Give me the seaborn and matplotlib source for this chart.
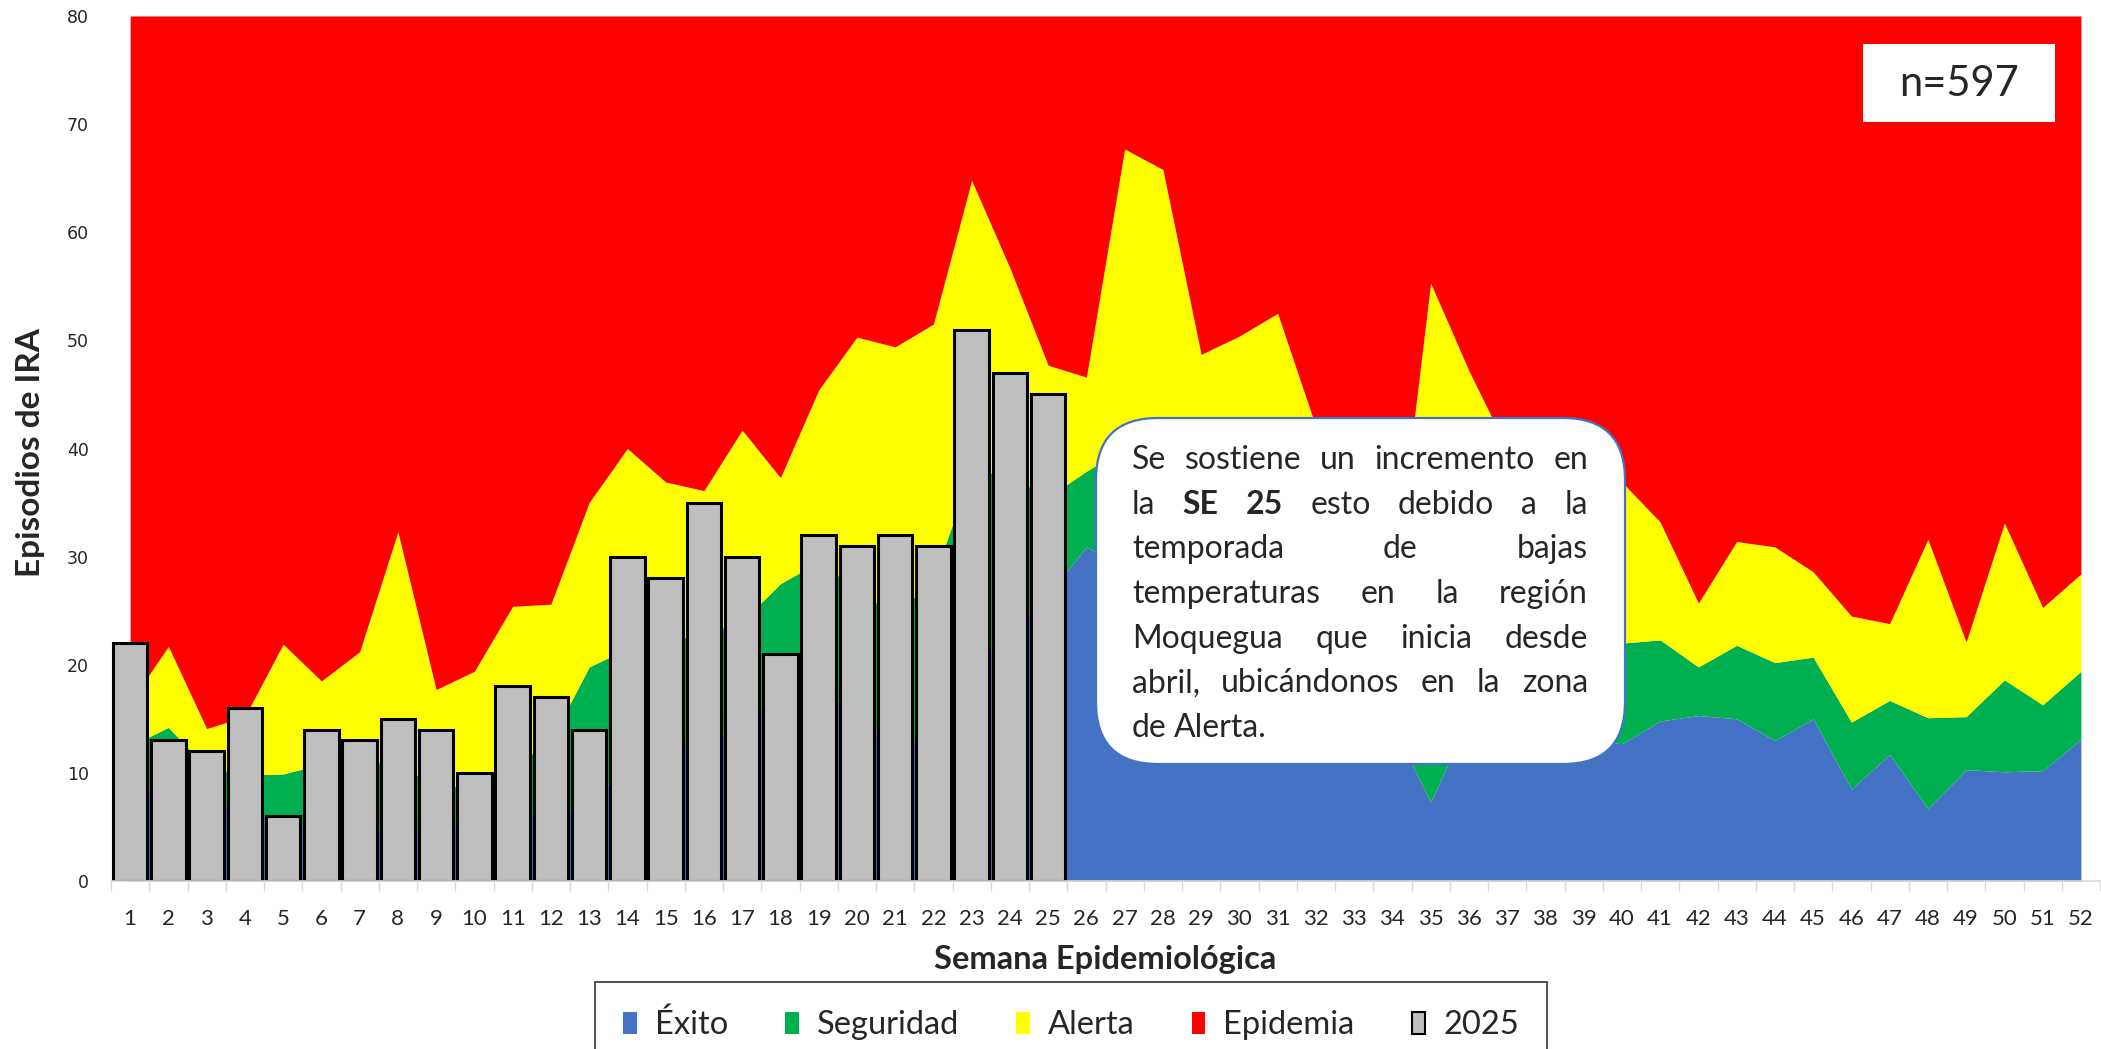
import matplotlib
matplotlib.use("Agg")
import matplotlib.pyplot as plt
import seaborn as sns
import numpy as np
from matplotlib.patches import Patch, FancyBboxPatch, Rectangle
from matplotlib.transforms import IdentityTransform
from matplotlib import font_manager

# ---- data ----
semanas = list(range(1, 53))
casos_2025 = [22, 13, 12, 16, 6, 14, 13, 15, 14, 10, 18, 17, 14, 30, 28, 35, 30, 21,
              32, 31, 32, 31, 51, 47, 45]

# upper limit of each zone (cumulative), weeks 1-52
exito_lim = [8, 9, 7.5, 6.5, 5.5, 5, 5, 4.5, 5, 5.5, 6, 6.5, 7, 11, 12.5, 13, 14, 17.5,
             17.5, 16, 12, 14, 20, 23, 26.5, 30.9, 29, 27, 24, 22, 21, 19.5, 17, 14.5,
             7.3, 15, 14.5, 13.5, 13, 12.7, 14.8, 15.3, 15.0, 13.0, 15.0, 8.5, 11.7, 6.7,
             10.3, 10.1, 10.2, 13.1]
seguridad_lim = [12.5, 14.2, 10.5, 9.8, 9.9, 10.8, 11.5, 10.5, 9, 8.5, 10.5, 13, 19.8,
                 21.5, 22.2, 22.8, 24, 27.5, 29.5, 27, 24.5, 28, 38, 37.5, 35.5, 37.9, 40,
                 36, 31, 29, 28, 26, 23, 20, 16, 21, 22, 21.5, 22, 22.0, 22.3, 19.8, 21.8,
                 20.2, 20.7, 14.7, 16.7, 15.1, 15.2, 18.6, 16.3, 19.4]
alerta_lim = [16.5, 21.7, 14.1, 15.2, 21.9, 18.5, 21.2, 32.3, 17.7, 19.4, 25.4, 25.6, 35.0,
              40.0, 36.9, 36.1, 41.7, 37.3, 45.4, 50.3, 49.4, 51.5, 64.8, 56.7, 47.7, 46.6,
              67.7, 65.8, 48.7, 50.4, 52.5, 42, 34, 26, 55.3, 47.2, 40, 38, 38, 36.9, 33.2,
              25.7, 31.4, 30.9, 28.6, 24.5, 23.8, 31.6, 22.1, 33.1, 25.3, 28.4]
epidemia_lim = [80] * 52

zonas = ["Éxito", "Seguridad", "Alerta", "Epidemia"]
colores = ["#4472c4", "#00b050", "#ffff00", "#ff0000"]
color_barra = "#bfbfbf"

nota = [
    [("Se", 0), ("sostiene", 0), ("un", 0), ("incremento", 0), ("en", 0)],
    [("la", 0), ("SE", 1), ("25", 1), ("esto", 0), ("debido", 0), ("a", 0), ("la", 0)],
    [("temporada", 0), ("de", 0), ("bajas", 0)],
    [("temperaturas", 0), ("en", 0), ("la", 0), ("región", 0)],
    [("Moquegua", 0), ("que", 0), ("inicia", 0), ("desde", 0)],
    [("abril,", 0), ("ubicándonos", 0), ("en", 0), ("la", 0), ("zona", 0)],
    [("de", 0), ("Alerta.", 0)],
]

# ---- style ----
sns.set_style("white")
plt.rcParams["font.family"] = ["Lato", "DejaVu Sans"]
fuentes = {f.name for f in font_manager.fontManager.ttflist}
narrow = "Liberation Sans Narrow" if "Liberation Sans Narrow" in fuentes else "Lato"

W, H = 2101, 1049
fig = plt.figure(figsize=(W / 100, H / 100), dpi=100)
ax = fig.add_axes([111 / W, 1 - 881 / H, 1989 / W, 865 / H])

x = np.arange(len(semanas))
ax.fill_between(x, 0, exito_lim, color=colores[0], lw=0, zorder=0)
ax.fill_between(x, exito_lim, seguridad_lim, color=colores[1], lw=0, zorder=0)
ax.fill_between(x, seguridad_lim, alerta_lim, color=colores[2], lw=0, zorder=0)
ax.fill_between(x, alerta_lim, epidemia_lim, color=colores[3], lw=0, zorder=0)

etiquetas = [str(s) for s in semanas]
sns.barplot(x=etiquetas[:len(casos_2025)], y=casos_2025, order=etiquetas,
            color=color_barra, saturation=1, edgecolor="black", linewidth=2.2,
            width=0.9, ax=ax, zorder=2)

ax.set_xlim(-0.5, len(semanas) - 0.5)
ax.set_ylim(0, 80)
ax.set_yticks(range(0, 81, 10))
ax.set_xticks(x)
ax.set_xticklabels(etiquetas, fontsize=16, family=[narrow, "DejaVu Sans"])
ax.set_xticks(np.arange(-0.5, len(semanas), 1), minor=True)
ax.tick_params(axis="x", which="major", length=0, pad=20)
ax.tick_params(axis="x", which="minor", bottom=True, length=7, width=1, color="#d9d9d9")
ax.tick_params(axis="y", length=0, pad=16, labelsize=12.5)
for lab in ax.get_yticklabels():
    lab.set_family("DejaVu Sans")
ax.set_xlabel("")
ax.set_ylabel("")
for s in ["left", "top", "right"]:
    ax.spines[s].set_visible(False)
ax.spines["bottom"].set_color("#d9d9d9")
ax.spines["bottom"].set_linewidth(1.2)

fig.text(31 / W, 1 - 453 / H, "Episodios de IRA", rotation=90, fontsize=24,
         fontweight="bold", ha="center", va="center", family=[narrow, "Lato"])
fig.text(1105 / W, 1 - 960 / H, "Semana Epidemiológica", fontsize=23.5,
         fontweight="bold", ha="center", va="center", family=[narrow, "Lato"])

# legend
handles = [Patch(facecolor=c, edgecolor="none") for c in colores]
handles.append(Patch(facecolor=color_barra, edgecolor="black", linewidth=1.5))
leg = fig.legend(handles, zonas + ["2025"], loc="upper center", ncol=5,
                 bbox_to_anchor=(1071 / W, 1 - 982 / H), frameon=True, fancybox=False,
                 fontsize=23.5, handlelength=0.42, handleheight=0.65, handletextpad=0.55,
                 columnspacing=1.75, borderpad=0.85, borderaxespad=0)
leg.get_frame().set_edgecolor("black")
leg.get_frame().set_linewidth(1.2)

# n box
fig.add_artist(Rectangle((1863, H - 122), 192, 78, transform=IdentityTransform(),
                         facecolor="white", edgecolor="none", zorder=3))
fig.text(1959, H - 84, "n=597", transform=IdentityTransform(), fontsize=30,
         ha="center", va="center", zorder=4)

# rounded note box with justified text
fig.add_artist(FancyBboxPatch((1096, H - 764), 529, 346,
                              boxstyle="round,pad=0,rounding_size=62",
                              transform=IdentityTransform(), facecolor="white",
                              edgecolor="#4472c4", linewidth=1.6, zorder=3))
renderer = fig.canvas.get_renderer()
x0, x1 = 1132, 1588
for i, linea in enumerate(nota):
    y = H - (469 + i * 44.7)
    objs = [fig.text(0, 0, w, transform=IdentityTransform(), fontsize=23,
                     fontweight="bold" if b else "normal", ha="left", va="baseline",
                     zorder=4) for w, b in linea]
    anchos = [t.get_window_extent(renderer).width for t in objs]
    if i == len(nota) - 1:
        hueco = 7
    else:
        hueco = (x1 - x0 - sum(anchos)) / (len(objs) - 1)
    pos = x0
    for t, a in zip(objs, anchos):
        t.set_position((pos, y))
        pos += a + hueco

fig.savefig("out.png", dpi=100)
